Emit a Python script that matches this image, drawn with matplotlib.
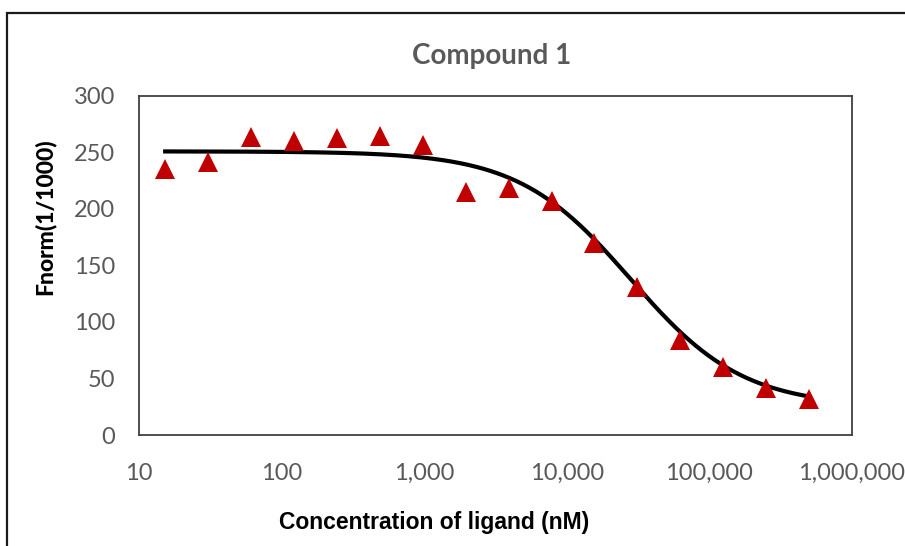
import numpy as np
import matplotlib
matplotlib.use("Agg")
import matplotlib.pyplot as plt
from matplotlib.patches import Rectangle
from matplotlib.ticker import FixedLocator, FuncFormatter

# Concentracion del ligando (nM), dilucion seriada 1:2
concentracion = [15.26, 30.52, 61.04, 122.1, 244.1, 488.3, 976.6, 1953, 3906,
                 7813, 15625, 31250, 62500, 125000, 250000, 500000]
# Fnorm (1/1000)
fnorm = [235, 242, 264, 260, 263, 265, 257, 215, 219,
         207, 170, 131, 84, 60, 42, 32]

# Parametros del ajuste (Hill)
fit_top = 251.0
fit_bottom = 25.0
fit_ec50 = 28000.0
fit_hill = 1.1

x_ticks = [10, 100, 1000, 10000, 100000, 1000000]
y_ticks = [0, 50, 100, 150, 200, 250, 300]

W, H = 905, 546
fig = plt.figure(figsize=(W / 100, H / 100), dpi=100)
fig.patch.set_facecolor("white")

# borde exterior del grafico (recortado a derecha y abajo)
fig.patches.append(Rectangle((7 / W, -0.05), 1.2, 1 - 13 / H + 0.05,
                             transform=fig.transFigure, fill=False,
                             edgecolor="#1a1a1a", linewidth=1.6))

ax = fig.add_axes([139 / W, 1 - 435 / H, (852 - 139) / W, (435 - 96) / H])

x_fit = np.logspace(np.log10(concentracion[0]), np.log10(concentracion[-1]), 300)
y_fit = fit_bottom + (fit_top - fit_bottom) / (1 + (x_fit / fit_ec50) ** fit_hill)
ax.plot(x_fit, y_fit, color="black", linewidth=3.0, zorder=2)
ax.plot(concentracion, fnorm, linestyle="none", marker="^", markersize=14.5,
        color="#C00000", markeredgewidth=0, zorder=3)

ax.set_xscale("log")
ax.set_xlim(10, 1000000)
ax.set_ylim(0, 300)
ax.xaxis.set_major_locator(FixedLocator(x_ticks))
ax.xaxis.set_minor_locator(FixedLocator([]))
ax.xaxis.set_major_formatter(FuncFormatter(lambda v, p: f"{int(round(v)):,}"))
ax.set_yticks(y_ticks)

ax.tick_params(axis="both", length=0, labelsize=17, labelcolor="#595959")
ax.tick_params(axis="x", pad=20)
ax.tick_params(axis="y", pad=17)
for lbl in ax.get_xticklabels() + ax.get_yticklabels():
    lbl.set_fontfamily("Lato")

for s in ax.spines.values():
    s.set_color("#404040")
    s.set_linewidth(1.3)

fig.text(492 / W, 1 - 56 / H, "Compound 1", ha="center", va="center",
         fontsize=20, fontweight="bold", color="#595959", family="Lato")
fig.text(434 / W, 1 - 522 / H, "Concentration of ligand (nM)", ha="center",
         va="center", fontsize=16.5, fontweight="bold", color="black",
         family="Liberation Sans")
fig.text(45 / W, 1 - 217 / H, "Fnorm(1/1000)", ha="center", va="center",
         rotation=90, fontsize=16.5, fontweight="black", color="black", family="Lato")

fig.savefig("out.png", dpi=100)
